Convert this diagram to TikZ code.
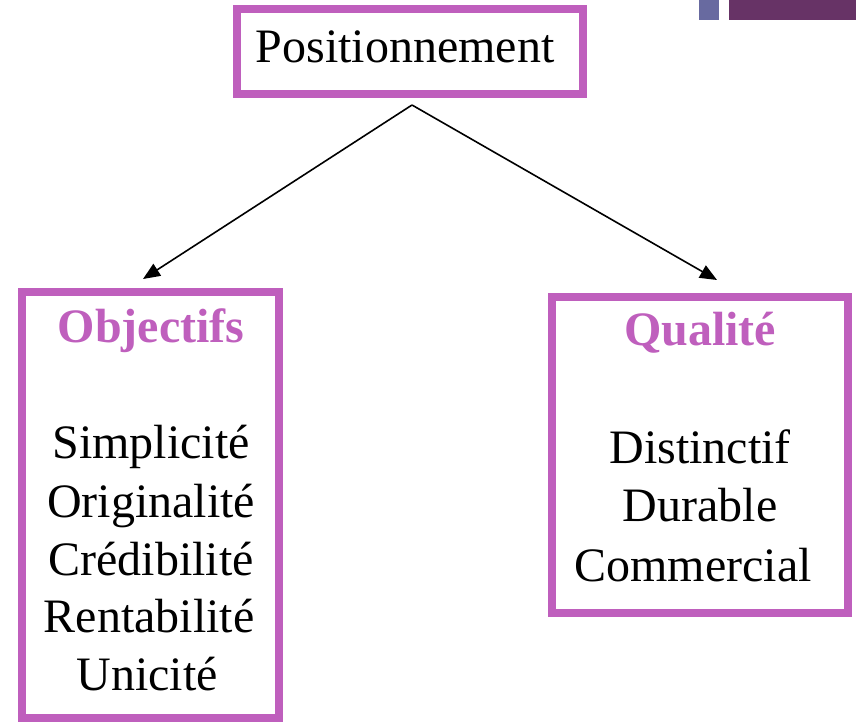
\documentclass[tikz,border=0pt]{standalone}
\usepackage{fontspec}
\setmainfont{Liberation Serif}
\usetikzlibrary{arrows.meta}
\definecolor{boxpurple}{RGB}{191,95,189}
\definecolor{decoblue}{RGB}{104,106,160}
\definecolor{decopurple}{RGB}{103,51,102}
\tikzset{
  framebox/.style={draw=boxpurple, line width=8pt, rectangle, inner sep=0pt, fill=white},
  txt/.style={anchor=base, inner sep=0pt, font=\fontsize{48}{58}\selectfont},
  head/.style={txt, font=\fontsize{48}{58}\selectfont\bfseries, text=boxpurple},
  link/.style={line width=1.6pt, -{Triangle[length=17pt,width=14pt]}}
}
\begin{document}
\begin{tikzpicture}[x=1pt,y=-1pt]
\useasboundingbox (0,0) rectangle (856,723);
\fill[white] (0,0) rectangle (856,723);
% decorations
\fill[decoblue] (699,0) rectangle (719,20);
\fill[decopurple] (729,0) rectangle (856,20);
% boxes
\node[framebox, minimum width=346pt, minimum height=85pt] (top) at (410,51.5) {};
\node[framebox, minimum width=257pt, minimum height=426pt] (obj) at (150.5,505) {};
\node[framebox, minimum width=296pt, minimum height=316pt] (qual) at (700,455) {};
% texts
\node[txt] (toptxt) at (405,62) {Positionnement};
\node[head] (objhead) at (151,342) {Objectifs};
\node[txt] (o1) at (151,458) {Simplicité};
\node[txt] (o2) at (151,517) {Originalité};
\node[txt] (o3) at (151,575) {Crédibilité};
\node[txt] (o4) at (149,632) {Rentabilité};
\node[txt] (o5) at (147,690) {Unicité};
\node[head] (qualhead) at (700,345) {Qualité};
\node[txt] (q1) at (700,463) {Distinctif};
\node[txt] (q2) at (700,521) {Durable};
\node[txt] (q3) at (693,581) {Commercial};
% connectors
\coordinate (apex) at (412,105);
\coordinate (lend) at (143,279);
\coordinate (rend) at (717,280);
\draw[link] (apex) -- (lend);
\draw[link] (apex) -- (rend);
\end{tikzpicture}
\end{document}
